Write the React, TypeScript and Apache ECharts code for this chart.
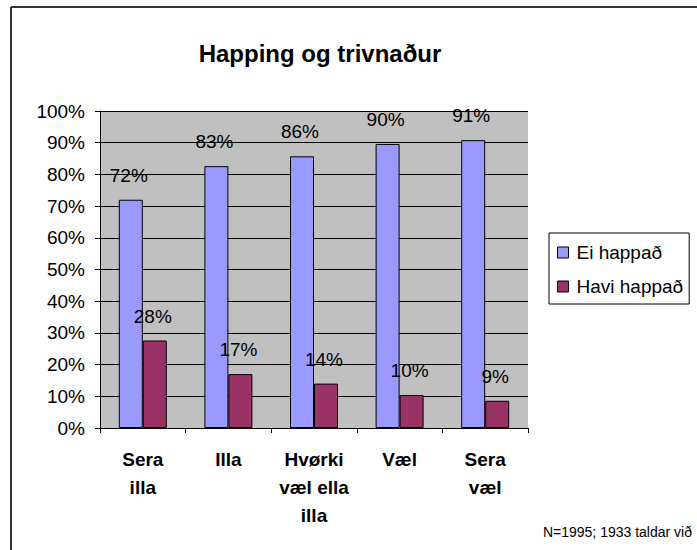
import React, { useEffect, useRef } from "react";
import * as echarts from "echarts";

const categories = ["Sera\nilla", "Illa", "Hvørki\nvæl ella\nilla", "Væl", "Sera\nvæl"];
const eiHappad = [72, 82.6, 85.7, 89.6, 90.8];
const haviHappad = [27.6, 17, 14, 10.4, 8.6];
const seriesNames = ["Ei happað", "Havi happað"];
const titleText = "Happing og trivnaður";
const footnote = "N=1995; 1933 taldar við";

const FONT = "'Liberation Sans', Arial, Helvetica, sans-serif";

export default function App() {
  const ref = useRef<HTMLDivElement>(null);
  useEffect(() => {
    document.body.style.margin = "0";
    const chart = echarts.init(ref.current!, null, { renderer: "svg" });
    const label = {
      show: true,
      position: "top",
      distance: 15,
      offset: [-2, 0],
      fontSize: 19,
      color: "#000",
      fontFamily: FONT,
      formatter: (p: any) => Math.round(p.value) + "%",
    };
    chart.setOption({
      animation: false,
      backgroundColor: "#fff",
      textStyle: { fontFamily: FONT },
      grid: {
        left: 100,
        top: 111,
        right: 169,
        bottom: 122,
        show: true,
        backgroundColor: "#C0C0C0",
        borderColor: "#C0C0C0",
        borderWidth: 0,
        containLabel: false,
      },
      legend: {
        orient: "vertical",
        left: 549,
        top: 233,
        padding: [10, 6, 8, 8],
        itemGap: 15,
        itemWidth: 11,
        itemHeight: 11,
        icon: "rect",
        borderColor: "#000",
        borderWidth: 1,
        itemStyle: { borderColor: "#000", borderWidth: 1 },
        textStyle: { fontSize: 19, color: "#000", fontFamily: FONT, lineHeight: 19, padding: [0, 0, 0, 3] },
        data: seriesNames,
      },
      xAxis: {
        type: "category",
        data: categories,
        boundaryGap: true,
        axisLine: { lineStyle: { color: "#000", width: 1 } },
        axisTick: { show: true, length: 5, alignWithLabel: false, lineStyle: { color: "#000" } },
        axisLabel: {
          fontSize: 19,
          fontWeight: "bold",
          color: "#000",
          lineHeight: 28,
          margin: 17,
          interval: 0,
          fontFamily: FONT,
        },
      },
      yAxis: {
        type: "value",
        min: 0,
        max: 100,
        interval: 10,
        axisLine: { show: true, lineStyle: { color: "#000", width: 1 } },
        axisTick: { show: true, length: 5, lineStyle: { color: "#000" } },
        axisLabel: { formatter: "{value}%", fontSize: 19, color: "#000", margin: 15, fontFamily: FONT },
        splitLine: { show: true, lineStyle: { color: "#000", width: 1 } },
      },
      series: [
        {
          name: seriesNames[0],
          type: "bar",
          data: eiHappad,
          barWidth: 24,
          barGap: "0%",
          itemStyle: { color: "#9999FF", borderColor: "#000", borderWidth: 1 },
          label,
        },
        {
          name: seriesNames[1],
          type: "bar",
          data: haviHappad,
          barWidth: 24,
          barGap: "0%",
          itemStyle: { color: "#993366", borderColor: "#000", borderWidth: 1 },
          label,
        },
      ],
      graphic: [
        {
          type: "line",
          shape: { x1: 11, y1: 7, x2: 697, y2: 7 },
          style: { stroke: "#333", lineWidth: 2 },
        },
        {
          type: "line",
          shape: { x1: 11, y1: 7, x2: 11, y2: 550 },
          style: { stroke: "#333", lineWidth: 2 },
        },
        {
          type: "text",
          x: 320,
          y: 53,
          style: {
            text: titleText,
            fontSize: 24,
            fontWeight: "bold",
            fontFamily: FONT,
            fill: "#000",
            align: "center",
            verticalAlign: "middle",
          },
        },
        {
          type: "text",
          x: 692,
          y: 532,
          style: {
            text: footnote,
            fontSize: 14,
            fontFamily: FONT,
            fill: "#000",
            align: "right",
            verticalAlign: "middle",
          },
        },
      ],
    });
    return () => chart.dispose();
  }, []);
  return <div ref={ref} style={{ width: 697, height: 550, position: "absolute", left: 0, top: 0 }} />;
}
